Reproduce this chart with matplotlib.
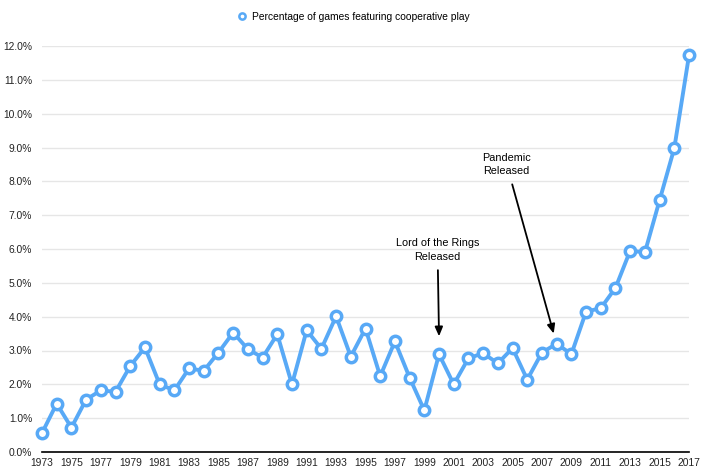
import matplotlib.pyplot as plt
from matplotlib.ticker import FuncFormatter

plt.rcParams['font.family'] = ['Liberation Sans', 'DejaVu Sans']

years = list(range(1973, 2018))
coop_pct = [0.56, 1.43, 0.72, 1.55, 1.82, 1.78, 2.54, 3.09, 2.00, 1.82,
            2.47, 2.40, 2.94, 3.53, 3.04, 2.79, 3.48, 2.00, 3.60, 3.05,
            4.01, 2.82, 3.65, 2.24, 3.27, 2.20, 1.23, 2.89, 2.00, 2.77,
            2.92, 2.62, 3.07, 2.14, 2.94, 3.20, 2.89, 4.15, 4.25, 4.85,
            5.95, 5.90, 7.44, 8.98, 11.72]
tick_years = list(range(1973, 2018, 2))

blue = '#58A9F6'

fig = plt.figure(figsize=(7.07, 4.76), dpi=100)
ax = fig.add_axes([42 / 707, 24 / 476, 647 / 707, 406 / 476])

ax.plot(years, coop_pct, color=blue, linewidth=2.8, marker='o', markersize=7.5,
        markerfacecolor='white', markeredgecolor=blue, markeredgewidth=2.5,
        clip_on=False, zorder=3, label='Percentage of games featuring cooperative play')

ax.set_xlim(1973, 2017)
ax.set_ylim(0, 12)
ax.set_xticks(tick_years)
ax.set_yticks(range(0, 13))
ax.yaxis.set_major_formatter(FuncFormatter(lambda v, p: f'{v:.1f}%'))
ax.tick_params(axis='both', length=0, labelsize=7.4, colors='#222222')
ax.tick_params(axis='x', pad=4)
ax.tick_params(axis='y', pad=7)

ax.grid(axis='y', color='#e6e6e6', linewidth=1)
ax.set_axisbelow(True)
for side in ['left', 'right', 'top']:
    ax.spines[side].set_visible(False)
ax.spines['bottom'].set_color('black')
ax.spines['bottom'].set_linewidth(1.2)

# annotations
ax.annotate('Lord of the Rings\nReleased', xy=(2000, 3.42), xytext=(1999.9, 5.97),
            ha='center', va='center', fontsize=7.8, linespacing=1.45,
            arrowprops=dict(arrowstyle='-|>,head_width=0.3,head_length=0.7',
                            color='black', lw=1.3, shrinkA=4, shrinkB=0))
ax.annotate('Pandemic\nReleased', xy=(2007.8, 3.5), xytext=(2004.6, 8.5),
            ha='center', va='center', fontsize=7.8, linespacing=1.45,
            arrowprops=dict(arrowstyle='-|>,head_width=0.3,head_length=0.7',
                            color='black', lw=1.3, shrinkA=4, shrinkB=0))

leg = fig.legend(loc='upper center', bbox_to_anchor=(0.5, 0.995), frameon=False,
                 fontsize=7.4, handlelength=1.0, handletextpad=0.5)
for h in leg.legend_handles:
    h.set_linestyle('none')
    h.set_markersize(4.5)
    h.set_markeredgewidth(1.8)

plt.savefig('out.png', dpi=100)
